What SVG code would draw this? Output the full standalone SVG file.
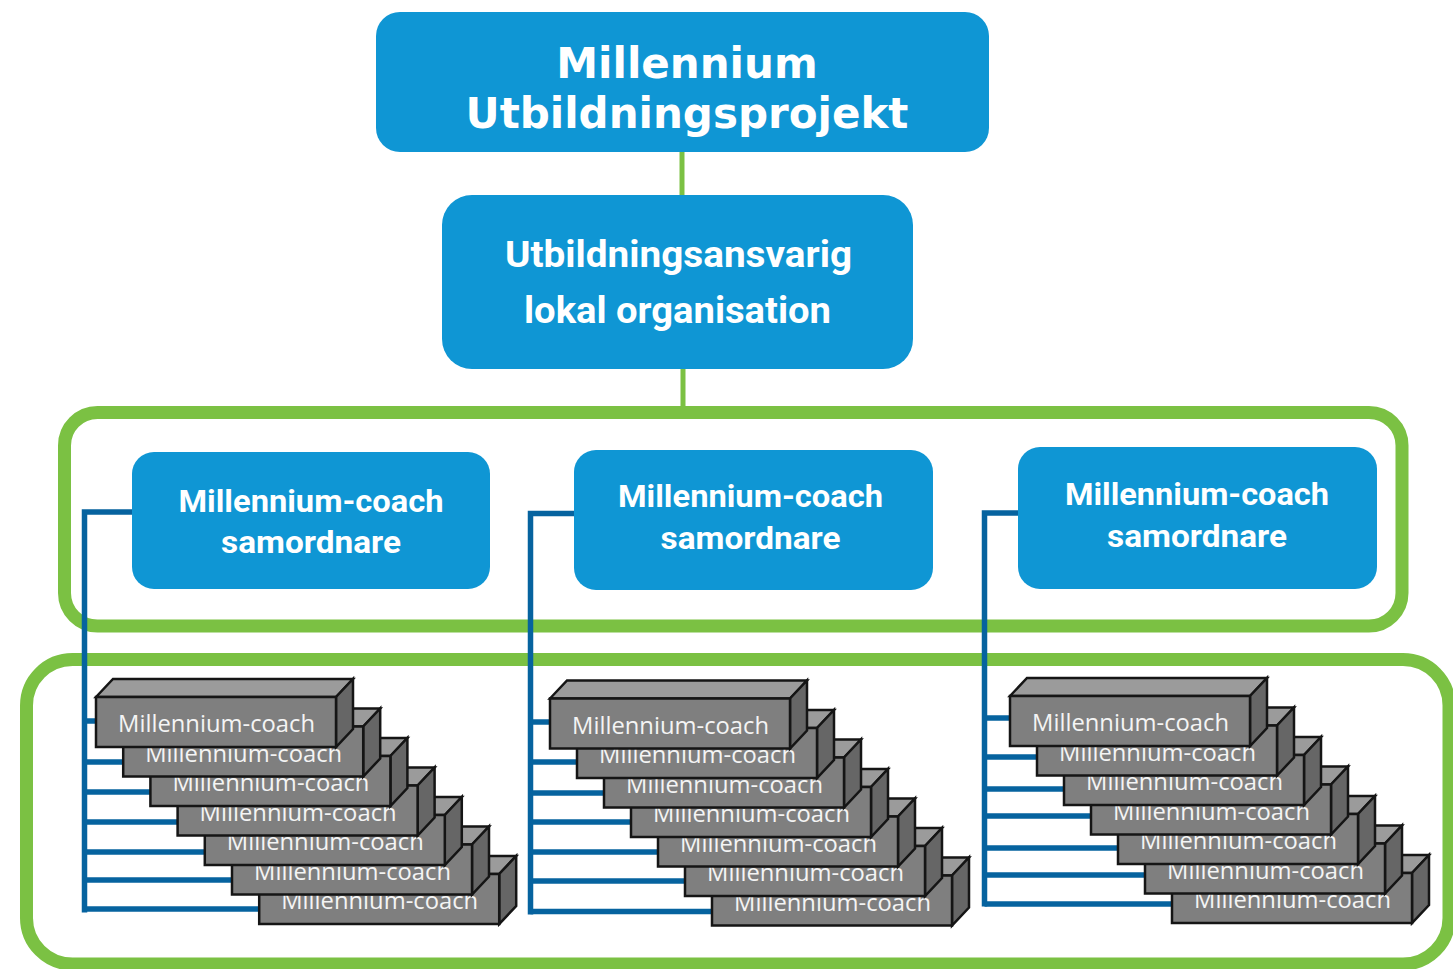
<svg xmlns="http://www.w3.org/2000/svg" width="1453" height="969" viewBox="0 0 1453 969">
<style>
.frame{fill:none;stroke:#7bc143;stroke-width:13}
.gl{fill:none;stroke:#7bc143;stroke-width:5}
.bl{fill:none;stroke:#06639f;stroke-width:5.5}
.node{fill:#0f96d4}
.t1{font-family:"DejaVu Sans","Liberation Sans",sans-serif;font-weight:bold;font-size:42px;fill:#ffffff;text-anchor:middle}
.t2{font-family:Roboto,"Liberation Sans",sans-serif;font-weight:bold;font-size:37px;fill:#ffffff;text-anchor:middle}
.t3{font-family:Roboto,"Liberation Sans",sans-serif;font-weight:bold;font-size:32px;fill:#ffffff;text-anchor:middle}
.front{fill:#7f7f7f;stroke:#151515;stroke-width:2.5;stroke-linejoin:miter}
.top{fill:#9b9b9b;stroke:#151515;stroke-width:2.5;stroke-linejoin:miter}
.side{fill:#666666;stroke:#151515;stroke-width:2.5;stroke-linejoin:miter}
.ct{font-family:"Open Sans","Liberation Sans",sans-serif;font-size:23px;fill:#f4f4f4}
</style>

<g id="frames">
<rect class="frame" x="64.5" y="412.5" width="1337.5" height="213.5" rx="33"/>
<rect class="frame" x="26.5" y="659.5" width="1422.5" height="304.5" rx="46"/>
</g>

<g id="connectors">
<line class="gl" x1="682" y1="150" x2="682" y2="198"/>
<line class="gl" x1="683" y1="367" x2="683" y2="408"/>
<polyline class="bl" points="135,512 84.5,512 84.5,912.5"/>
<line class="bl" x1="84.5" y1="721" x2="99" y2="721"/>
<line class="bl" x1="84.5" y1="762" x2="126" y2="762"/>
<line class="bl" x1="84.5" y1="792" x2="153" y2="792"/>
<line class="bl" x1="84.5" y1="822" x2="180" y2="822"/>
<line class="bl" x1="84.5" y1="852" x2="207" y2="852"/>
<line class="bl" x1="84.5" y1="880" x2="234" y2="880"/>
<line class="bl" x1="84.5" y1="909" x2="262" y2="909"/>
<polyline class="bl" points="577,513.5 530.5,513.5 530.5,914.5"/>
<line class="bl" x1="530.5" y1="722" x2="553" y2="722"/>
<line class="bl" x1="530.5" y1="762" x2="580" y2="762"/>
<line class="bl" x1="530.5" y1="793" x2="607" y2="793"/>
<line class="bl" x1="530.5" y1="822" x2="634" y2="822"/>
<line class="bl" x1="530.5" y1="852" x2="661" y2="852"/>
<line class="bl" x1="530.5" y1="881" x2="688" y2="881"/>
<line class="bl" x1="530.5" y1="911.5" x2="715" y2="911.5"/>
<polyline class="bl" points="1022,513 984.5,513 984.5,906.5"/>
<line class="bl" x1="984.5" y1="718" x2="1013" y2="718"/>
<line class="bl" x1="984.5" y1="757" x2="1040" y2="757"/>
<line class="bl" x1="984.5" y1="789" x2="1067" y2="789"/>
<line class="bl" x1="984.5" y1="816" x2="1094" y2="816"/>
<line class="bl" x1="984.5" y1="848" x2="1121" y2="848"/>
<line class="bl" x1="984.5" y1="875" x2="1148" y2="875"/>
<line class="bl" x1="984.5" y1="904" x2="1175" y2="904"/>
</g>

<g id="project">
<rect class="node" x="376" y="12" width="613" height="140" rx="24"/>
<text class="t1" x="687" y="78">Millennium</text>
<text class="t1" x="687" y="128">Utbildningsprojekt</text>
</g>

<g id="local-org">
<rect class="node" x="442" y="195" width="471" height="174" rx="30"/>
<text class="t2" x="678.5" y="267" textLength="347" lengthAdjust="spacingAndGlyphs">Utbildningsansvarig</text>
<text class="t2" x="677.5" y="323" textLength="307" lengthAdjust="spacingAndGlyphs">lokal organisation</text>
</g>

<g id="coordinator-1">
<rect class="node" x="132" y="452" width="358" height="137" rx="22"/>
<text class="t3" x="311" y="512" textLength="265" lengthAdjust="spacingAndGlyphs">Millennium-coach</text>
<text class="t3" x="311" y="553" textLength="180" lengthAdjust="spacingAndGlyphs">samordnare</text>
</g>
<g id="coordinator-2">
<rect class="node" x="574" y="450" width="359" height="140" rx="22"/>
<text class="t3" x="750.5" y="507" textLength="265" lengthAdjust="spacingAndGlyphs">Millennium-coach</text>
<text class="t3" x="750.5" y="549" textLength="180" lengthAdjust="spacingAndGlyphs">samordnare</text>
</g>
<g id="coordinator-3">
<rect class="node" x="1018" y="447" width="359" height="142" rx="22"/>
<text class="t3" x="1197" y="505" textLength="264" lengthAdjust="spacingAndGlyphs">Millennium-coach</text>
<text class="t3" x="1197" y="547" textLength="180" lengthAdjust="spacingAndGlyphs">samordnare</text>
</g>

<g id="coaches-1">
<g id="coach-1-7" transform="translate(259.2,874)"><polygon class="top" points="0,0 17,-18 257,-18 240,0"/><polygon class="side" points="240,0 257,-18 257,32 240,50"/><rect class="front" width="240" height="50"/><text class="ct" x="22" y="35" textLength="197" lengthAdjust="spacingAndGlyphs">Millennium-coach</text></g>
<g id="coach-1-6" transform="translate(232,844.5)"><polygon class="top" points="0,0 17,-18 257,-18 240,0"/><polygon class="side" points="240,0 257,-18 257,32 240,50"/><rect class="front" width="240" height="50"/><text class="ct" x="22" y="35" textLength="197" lengthAdjust="spacingAndGlyphs">Millennium-coach</text></g>
<g id="coach-1-5" transform="translate(204.8,815)"><polygon class="top" points="0,0 17,-18 257,-18 240,0"/><polygon class="side" points="240,0 257,-18 257,32 240,50"/><rect class="front" width="240" height="50"/><text class="ct" x="22" y="35" textLength="197" lengthAdjust="spacingAndGlyphs">Millennium-coach</text></g>
<g id="coach-1-4" transform="translate(177.6,785.5)"><polygon class="top" points="0,0 17,-18 257,-18 240,0"/><polygon class="side" points="240,0 257,-18 257,32 240,50"/><rect class="front" width="240" height="50"/><text class="ct" x="22" y="35" textLength="197" lengthAdjust="spacingAndGlyphs">Millennium-coach</text></g>
<g id="coach-1-3" transform="translate(150.4,756)"><polygon class="top" points="0,0 17,-18 257,-18 240,0"/><polygon class="side" points="240,0 257,-18 257,32 240,50"/><rect class="front" width="240" height="50"/><text class="ct" x="22" y="35" textLength="197" lengthAdjust="spacingAndGlyphs">Millennium-coach</text></g>
<g id="coach-1-2" transform="translate(123.2,726.5)"><polygon class="top" points="0,0 17,-18 257,-18 240,0"/><polygon class="side" points="240,0 257,-18 257,32 240,50"/><rect class="front" width="240" height="50"/><text class="ct" x="22" y="35" textLength="197" lengthAdjust="spacingAndGlyphs">Millennium-coach</text></g>
<g id="coach-1-1" transform="translate(96,697)"><polygon class="top" points="0,0 17,-18 257,-18 240,0"/><polygon class="side" points="240,0 257,-18 257,32 240,50"/><rect class="front" width="240" height="50"/><text class="ct" x="22" y="35" textLength="197" lengthAdjust="spacingAndGlyphs">Millennium-coach</text></g>
</g>

<g id="coaches-2">
<g id="coach-2-7" transform="translate(712,875.5)"><polygon class="top" points="0,0 17,-18 257,-18 240,0"/><polygon class="side" points="240,0 257,-18 257,32 240,50"/><rect class="front" width="240" height="50"/><text class="ct" x="22" y="35" textLength="197" lengthAdjust="spacingAndGlyphs">Millennium-coach</text></g>
<g id="coach-2-6" transform="translate(685,846)"><polygon class="top" points="0,0 17,-18 257,-18 240,0"/><polygon class="side" points="240,0 257,-18 257,32 240,50"/><rect class="front" width="240" height="50"/><text class="ct" x="22" y="35" textLength="197" lengthAdjust="spacingAndGlyphs">Millennium-coach</text></g>
<g id="coach-2-5" transform="translate(658,816.5)"><polygon class="top" points="0,0 17,-18 257,-18 240,0"/><polygon class="side" points="240,0 257,-18 257,32 240,50"/><rect class="front" width="240" height="50"/><text class="ct" x="22" y="35" textLength="197" lengthAdjust="spacingAndGlyphs">Millennium-coach</text></g>
<g id="coach-2-4" transform="translate(631,787)"><polygon class="top" points="0,0 17,-18 257,-18 240,0"/><polygon class="side" points="240,0 257,-18 257,32 240,50"/><rect class="front" width="240" height="50"/><text class="ct" x="22" y="35" textLength="197" lengthAdjust="spacingAndGlyphs">Millennium-coach</text></g>
<g id="coach-2-3" transform="translate(604,757.5)"><polygon class="top" points="0,0 17,-18 257,-18 240,0"/><polygon class="side" points="240,0 257,-18 257,32 240,50"/><rect class="front" width="240" height="50"/><text class="ct" x="22" y="35" textLength="197" lengthAdjust="spacingAndGlyphs">Millennium-coach</text></g>
<g id="coach-2-2" transform="translate(577,728)"><polygon class="top" points="0,0 17,-18 257,-18 240,0"/><polygon class="side" points="240,0 257,-18 257,32 240,50"/><rect class="front" width="240" height="50"/><text class="ct" x="22" y="35" textLength="197" lengthAdjust="spacingAndGlyphs">Millennium-coach</text></g>
<g id="coach-2-1" transform="translate(550,698.5)"><polygon class="top" points="0,0 17,-18 257,-18 240,0"/><polygon class="side" points="240,0 257,-18 257,32 240,50"/><rect class="front" width="240" height="50"/><text class="ct" x="22" y="35" textLength="197" lengthAdjust="spacingAndGlyphs">Millennium-coach</text></g>
</g>

<g id="coaches-3">
<g id="coach-3-7" transform="translate(1172,873)"><polygon class="top" points="0,0 17,-18 257,-18 240,0"/><polygon class="side" points="240,0 257,-18 257,32 240,50"/><rect class="front" width="240" height="50"/><text class="ct" x="22" y="35" textLength="197" lengthAdjust="spacingAndGlyphs">Millennium-coach</text></g>
<g id="coach-3-6" transform="translate(1145,843.5)"><polygon class="top" points="0,0 17,-18 257,-18 240,0"/><polygon class="side" points="240,0 257,-18 257,32 240,50"/><rect class="front" width="240" height="50"/><text class="ct" x="22" y="35" textLength="197" lengthAdjust="spacingAndGlyphs">Millennium-coach</text></g>
<g id="coach-3-5" transform="translate(1118,814)"><polygon class="top" points="0,0 17,-18 257,-18 240,0"/><polygon class="side" points="240,0 257,-18 257,32 240,50"/><rect class="front" width="240" height="50"/><text class="ct" x="22" y="35" textLength="197" lengthAdjust="spacingAndGlyphs">Millennium-coach</text></g>
<g id="coach-3-4" transform="translate(1091,784.5)"><polygon class="top" points="0,0 17,-18 257,-18 240,0"/><polygon class="side" points="240,0 257,-18 257,32 240,50"/><rect class="front" width="240" height="50"/><text class="ct" x="22" y="35" textLength="197" lengthAdjust="spacingAndGlyphs">Millennium-coach</text></g>
<g id="coach-3-3" transform="translate(1064,755)"><polygon class="top" points="0,0 17,-18 257,-18 240,0"/><polygon class="side" points="240,0 257,-18 257,32 240,50"/><rect class="front" width="240" height="50"/><text class="ct" x="22" y="35" textLength="197" lengthAdjust="spacingAndGlyphs">Millennium-coach</text></g>
<g id="coach-3-2" transform="translate(1037,725.5)"><polygon class="top" points="0,0 17,-18 257,-18 240,0"/><polygon class="side" points="240,0 257,-18 257,32 240,50"/><rect class="front" width="240" height="50"/><text class="ct" x="22" y="35" textLength="197" lengthAdjust="spacingAndGlyphs">Millennium-coach</text></g>
<g id="coach-3-1" transform="translate(1010,696)"><polygon class="top" points="0,0 17,-18 257,-18 240,0"/><polygon class="side" points="240,0 257,-18 257,32 240,50"/><rect class="front" width="240" height="50"/><text class="ct" x="22" y="35" textLength="197" lengthAdjust="spacingAndGlyphs">Millennium-coach</text></g>
</g>
</svg>
